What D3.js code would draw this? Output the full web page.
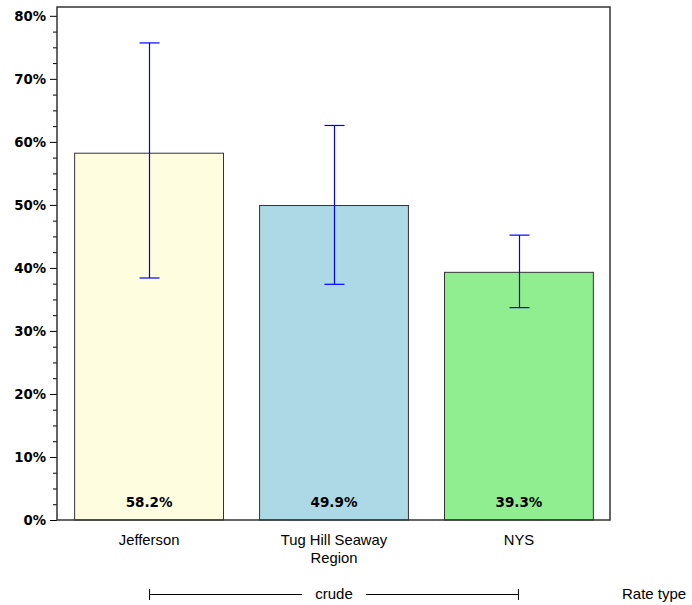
<!DOCTYPE html>
<html><head><meta charset="utf-8">
<script src="https://cdn.jsdelivr.net/npm/d3@7"></script>
<style>body{margin:0;background:#fff}</style>
</head><body>
<svg id="c" width="692" height="605"></svg>
<script>
const categories = ["Jefferson", "Tug Hill Seaway Region", "NYS"];
const categoryLines = [["Jefferson"], ["Tug Hill Seaway", "Region"], ["NYS"]];
const values = [58.2, 49.9, 39.3];
const lower = [38.4, 37.4, 33.7];
const upper = [75.7, 62.6, 45.2];
const colors = ["#FFFDE0", "#ADD8E6", "#90EE90"];
const yTicks = [0, 10, 20, 30, 40, 50, 60, 70, 80];
const groupLabel = "crude";
const groupTitle = "Rate type";

const svg = d3.select("#c");
const L = 57, R = 610, T = 7, B = 520;
const y = d3.scaleLinear().domain([0, 81.4]).range([B, T]);
const x = d3.scaleBand().domain(categories).range([L + 1, R]).paddingInner(0.195).paddingOuter(0.09);

// minor ticks
const minor = d3.range(0, 81, 2.5).filter(v => v % 10 !== 0);
svg.append("g").attr("transform", `translate(${L},0)`)
  .call(d3.axisLeft(y).tickValues(minor).tickSize(4).tickFormat(""))
  .call(g => g.select(".domain").remove())
  .call(g => g.selectAll("line").attr("stroke", "#000"));
// major axis
svg.append("g").attr("transform", `translate(${L},0)`)
  .call(d3.axisLeft(y).tickValues(yTicks).tickSize(7).tickPadding(4).tickFormat(d => d + "%"))
  .call(g => g.select(".domain").remove())
  .call(g => g.selectAll("line").attr("stroke", "#000"))
  .call(g => g.selectAll("text").attr("font-family", "DejaVu Sans").attr("font-weight", "bold")
    .attr("font-size", 13.3).attr("fill", "#000"));

// bars
svg.append("g").selectAll("rect").data(categories).join("rect")
  .attr("x", d => x(d)).attr("width", x.bandwidth())
  .attr("y", (d, i) => y(values[i])).attr("height", (d, i) => y(0) - y(values[i]))
  .attr("fill", (d, i) => colors[i]).attr("stroke", "#333").attr("stroke-width", 1);

// plot border
svg.append("rect").attr("x", L).attr("y", T).attr("width", R - L).attr("height", B - T)
  .attr("fill", "none").attr("stroke", "#333").attr("stroke-width", 1.5);

// error bars
const eb = svg.append("g").attr("stroke", "#0000ff").attr("stroke-width", 1.2);
categories.forEach((c, i) => {
  const cx = Math.round(x(c) + x.bandwidth() / 2) + 0.5;
  eb.append("line").attr("x1", cx).attr("x2", cx).attr("y1", y(lower[i])).attr("y2", y(upper[i]));
  eb.append("line").attr("x1", cx - 10).attr("x2", cx + 10).attr("y1", y(lower[i])).attr("y2", y(lower[i]));
  eb.append("line").attr("x1", cx - 10).attr("x2", cx + 10).attr("y1", y(upper[i])).attr("y2", y(upper[i]));
});

// value labels
svg.append("g").selectAll("text").data(categories).join("text")
  .attr("x", d => x(d) + x.bandwidth() / 2).attr("y", 506.5)
  .attr("text-anchor", "middle").attr("font-family", "DejaVu Sans").attr("font-weight", "bold")
  .attr("font-size", 13.5).attr("fill", "#000")
  .text((d, i) => values[i].toFixed(1) + "%");

// category labels
categories.forEach((c, i) => {
  const t = svg.append("text").attr("x", x(c) + x.bandwidth() / 2).attr("y", 544.5)
    .attr("text-anchor", "middle").attr("font-family", "Liberation Sans").attr("font-size", 14.8).attr("fill", "#000");
  categoryLines[i].forEach((ln, j) => t.append("tspan").attr("x", x(c) + x.bandwidth() / 2).attr("dy", j ? 18.5 : 0).text(ln));
});

// group bracket
const gx1 = x(categories[0]) + x.bandwidth() / 2, gx2 = x(categories[2]) + x.bandwidth() / 2, gy = 594;
svg.append("text").attr("x", (gx1 + gx2) / 2).attr("y", gy + 5).attr("text-anchor", "middle")
  .attr("font-family", "Liberation Sans").attr("font-size", 15).text(groupLabel);
const gw = 40;
const bg = svg.append("g").attr("stroke", "#000").attr("stroke-width", 1);
bg.append("line").attr("x1", gx1).attr("x2", (gx1 + gx2) / 2 - gw / 2 - 12).attr("y1", gy + 0.5).attr("y2", gy + 0.5);
bg.append("line").attr("x1", (gx1 + gx2) / 2 + gw / 2 + 12).attr("x2", gx2).attr("y1", gy + 0.5).attr("y2", gy + 0.5);
bg.append("line").attr("x1", gx1 + 0.5).attr("x2", gx1 + 0.5).attr("y1", gy - 5).attr("y2", gy + 6);
bg.append("line").attr("x1", gx2 - 0.5).attr("x2", gx2 - 0.5).attr("y1", gy - 5).attr("y2", gy + 6);
svg.append("text").attr("x", 622).attr("y", gy + 5).attr("font-family", "Liberation Sans").attr("font-size", 15).text(groupTitle);
</script>
</body></html>
